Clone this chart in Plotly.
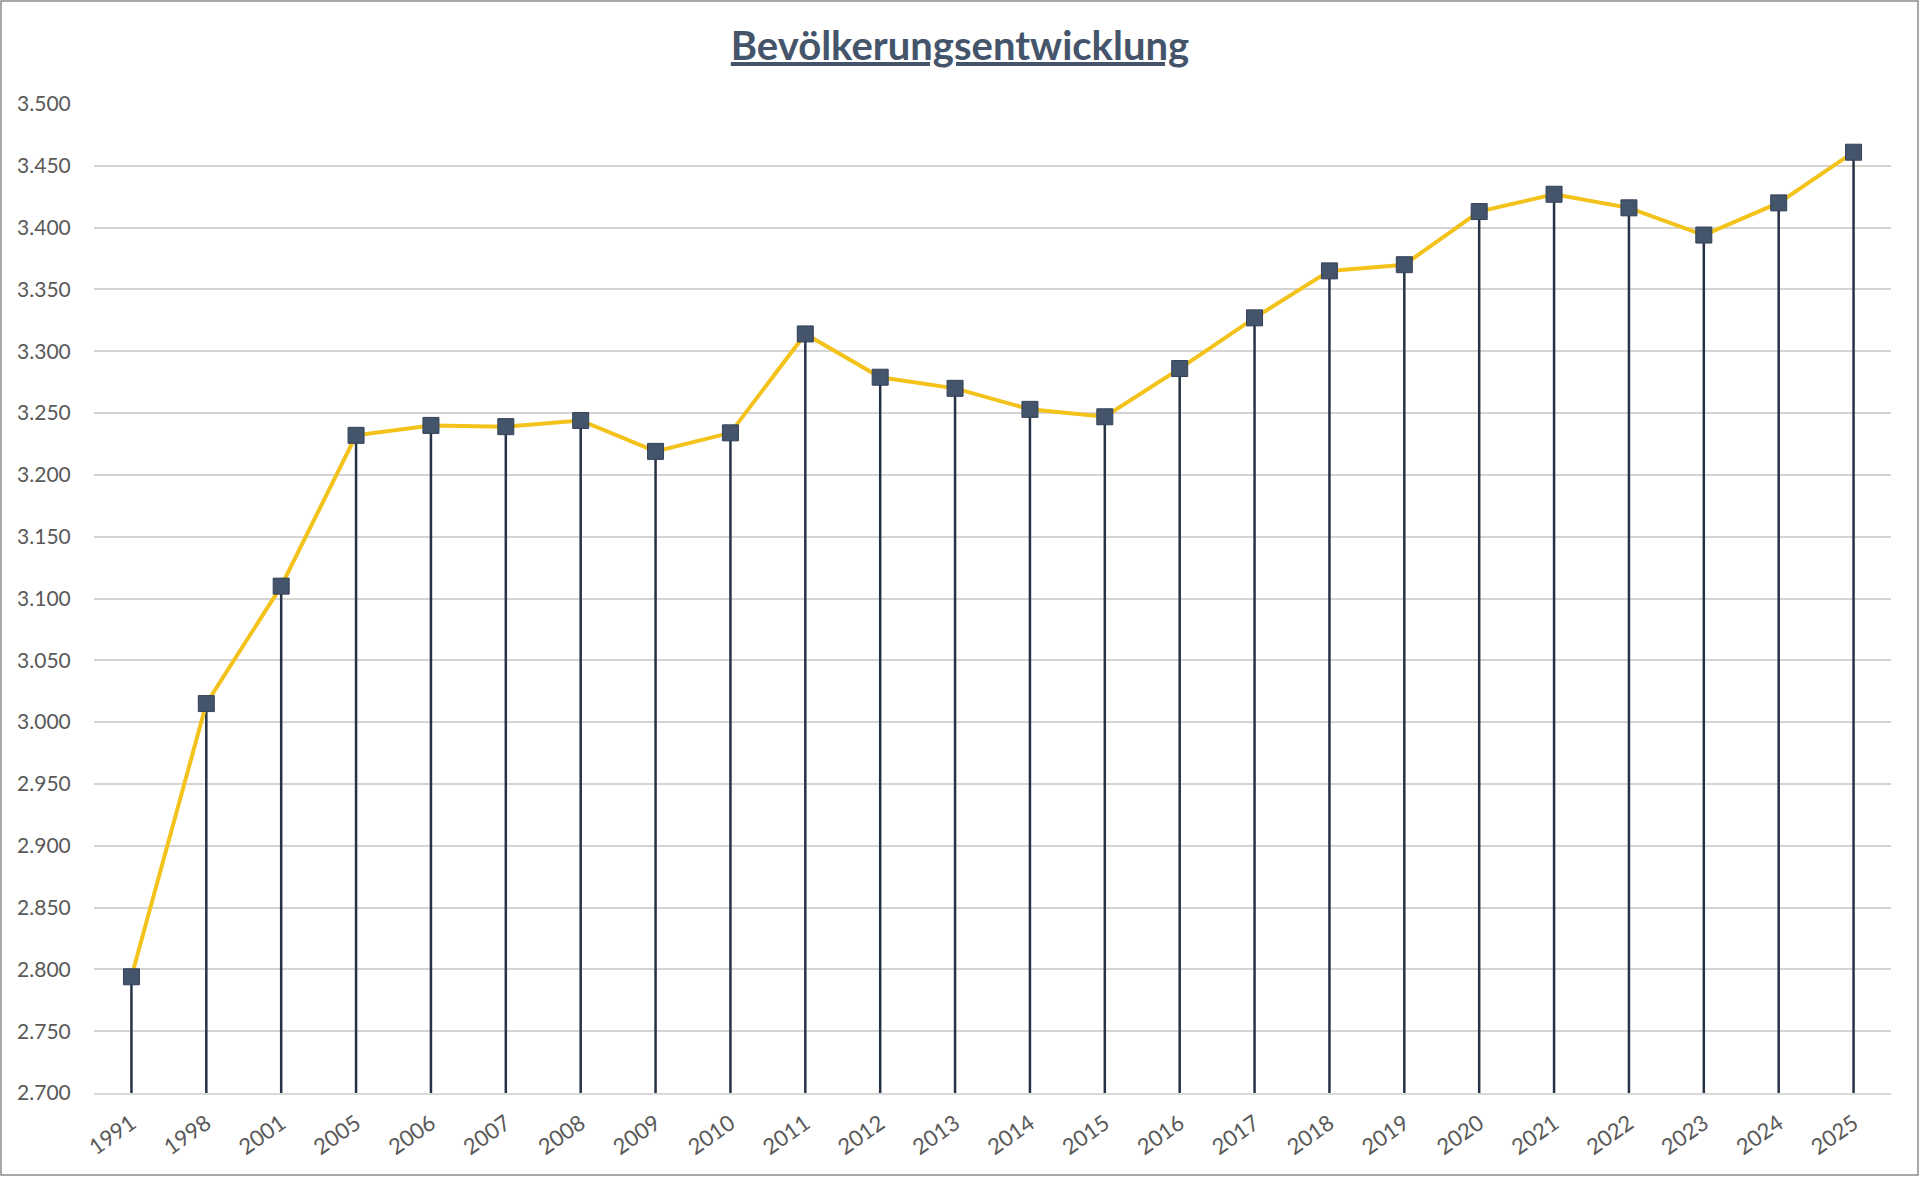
import plotly.graph_objects as go

# ---- data ----
years = ["1991", "1998", "2001", "2005", "2006", "2007", "2008", "2009", "2010",
         "2011", "2012", "2013", "2014", "2015", "2016", "2017", "2018", "2019",
         "2020", "2021", "2022", "2023", "2024", "2025"]
population = [2794, 3015, 3110, 3232, 3240, 3239, 3244, 3219, 3234,
              3314, 3279, 3270, 3253, 3247, 3286, 3327, 3365, 3370,
              3413, 3427, 3416, 3394, 3420, 3461]
title_text = "Bevölkerungsentwicklung"
y_min, y_max, y_step = 2700, 3500, 50

W, H = 1920, 1177
ml, mr, mt, mb = 94, 29, 104, 84
pw, ph = W - ml - mr, H - mt - mb

fig = go.Figure()

# drop lines (stems) from axis minimum to each point
fig.add_trace(go.Scatter(
    x=years, y=population, mode="markers",
    marker=dict(size=1, color="rgba(0,0,0,0)"),
    error_y=dict(type="data", symmetric=False,
                 array=[0] * len(population),
                 arrayminus=[v - y_min for v in population],
                 color="#263245", thickness=2.5, width=0),
    hoverinfo="skip", showlegend=False,
))

# main line with square markers
fig.add_trace(go.Scatter(
    x=years, y=population, mode="lines+markers",
    line=dict(color="#F3C21B", width=4),
    marker=dict(symbol="square", size=16, color="#44546A",
                line=dict(color="#33415A", width=1)),
    showlegend=False,
))

fig.update_layout(
    width=W, height=H,
    margin=dict(l=ml, r=mr, t=mt, b=mb),
    paper_bgcolor="white", plot_bgcolor="white",
    separators=",.",
    font=dict(family="Lato, 'Open Sans', sans-serif", color="#595959", size=21),
    title=dict(text="<b><u>" + title_text + "</u></b>",
               x=0.5, xanchor="center", xref="container",
               y=1 - 60 / H, yanchor="bottom", yref="container",
               font=dict(family="Lato, sans-serif", size=40, color="#44546A")),
    xaxis=dict(
        type="category", showgrid=False,
        showline=True, linecolor="#D9D9D9", linewidth=2,
        ticks="outside", ticklen=7, tickcolor="rgba(0,0,0,0)",
        tickangle=-35, tickfont=dict(size=22, color="#595959"),
        range=[-0.5, len(years) - 0.5],
    ),
    yaxis=dict(
        range=[y_min, y_max], dtick=y_step, tick0=y_min,
        tickformat=",d",
        showgrid=True, gridcolor="#D4D4D4", gridwidth=2,
        zeroline=False, showline=False,
        ticks="outside", ticklen=18, tickcolor="rgba(0,0,0,0)",
        tickfont=dict(size=21, color="#595959"),
    ),
    shapes=[dict(
        type="rect", xref="paper", yref="paper",
        x0=(1 - ml) / pw, x1=(W - 2 - ml) / pw,
        y0=-(H - 2 - mt - ph) / ph, y1=1 + (mt - 1) / ph,
        line=dict(color="#8C8C8C", width=1.5), fillcolor="rgba(0,0,0,0)",
        layer="above",
    )],
)

fig.write_html("out.html", config={"displayModeBar": False},
               post_script="document.body.style.margin='0';document.body.style.overflow='hidden';")
